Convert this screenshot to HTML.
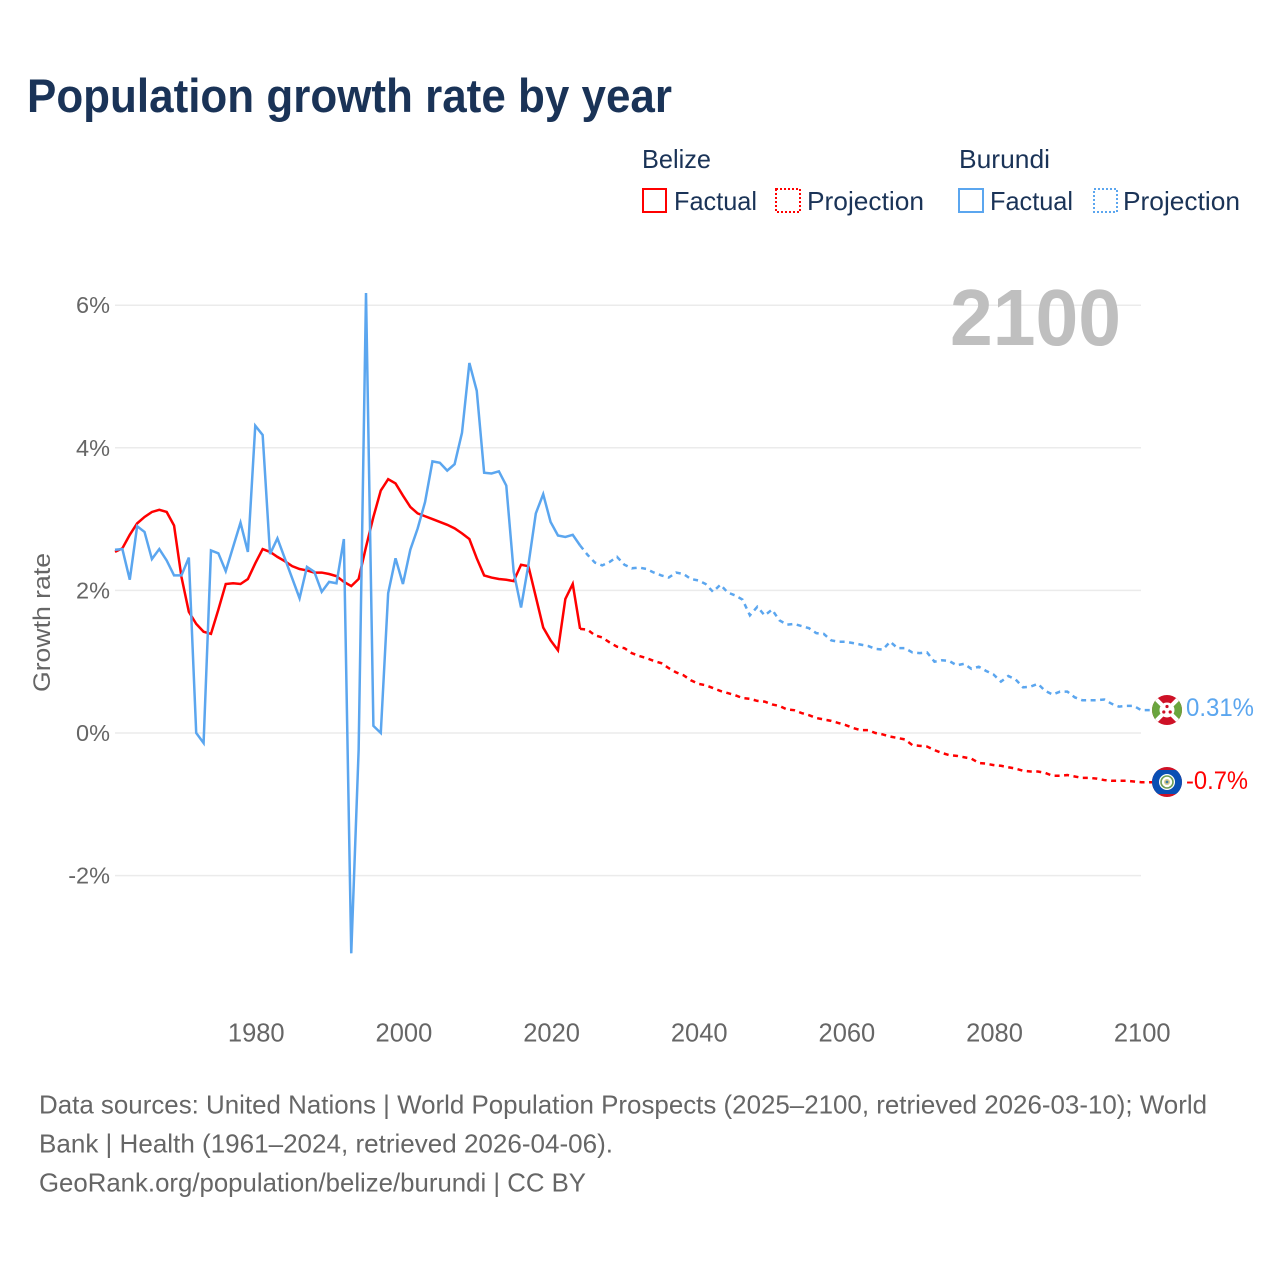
<!DOCTYPE html>
<html lang="en">
<head>
<meta charset="utf-8">
<title>Population growth rate by year</title>
<style>
html,body{margin:0;padding:0;background:#fff;}
svg{display:block;font-family:"Liberation Sans",sans-serif;}
</style>
</head>
<body>
<svg id="chart" xmlns="http://www.w3.org/2000/svg" width="1280" height="1280" viewBox="0 0 1280 1280">
  <rect x="0" y="0" width="1280" height="1280" fill="#fff"/>
  <text x="27" y="112" font-size="47" font-weight="700" fill="#1a3357" textLength="645" lengthAdjust="spacingAndGlyphs">Population growth rate by year</text>

  <g font-size="26" fill="#1a3357">
    <text x="642" y="168" textLength="69" lengthAdjust="spacingAndGlyphs">Belize</text>
    <text x="959" y="168" textLength="91" lengthAdjust="spacingAndGlyphs">Burundi</text>
    <g>
      <rect x="643" y="189" width="23" height="23" fill="none" stroke="#ff0000" stroke-width="2"/>
      <text x="674" y="210" textLength="83" lengthAdjust="spacingAndGlyphs">Factual</text>
    </g>
    <g>
      <rect x="776" y="189" width="24" height="23" fill="none" stroke="#ff0000" stroke-width="2" stroke-dasharray="2 2"/>
      <text x="807" y="210" textLength="117" lengthAdjust="spacingAndGlyphs">Projection</text>
    </g>
    <g>
      <rect x="959" y="189" width="24" height="23" fill="none" stroke="#5ba6ef" stroke-width="2"/>
      <text x="990" y="210" textLength="83" lengthAdjust="spacingAndGlyphs">Factual</text>
    </g>
    <g>
      <rect x="1094" y="189" width="23" height="23" fill="none" stroke="#5ba6ef" stroke-width="2" stroke-dasharray="2 2"/>
      <text x="1123" y="210" textLength="117" lengthAdjust="spacingAndGlyphs">Projection</text>
    </g>
  </g>

  <g id="grid"></g>
  <g id="yticks"></g>
  <g id="xticks"></g>
  <text transform="translate(50,622.5) rotate(-90)" text-anchor="middle" font-size="24" fill="#666666" textLength="139" lengthAdjust="spacingAndGlyphs">Growth rate</text>
  <text x="950" y="345" font-size="80" font-weight="700" fill="#bfbfbf" textLength="171" lengthAdjust="spacingAndGlyphs">2100</text>
  <g id="series"></g>

  <defs>
    <clipPath id="clip-burundi"><circle cx="1167" cy="710" r="15"/></clipPath>
    <clipPath id="clip-belize"><circle cx="1167" cy="782" r="15"/></clipPath>
  </defs>
  <g clip-path="url(#clip-burundi)">
    <rect x="1152" y="695" width="30" height="30" fill="#ce1126"/>
    <polygon points="1152,695 1167,710 1152,725" fill="#6aa53e"/>
    <polygon points="1182,695 1167,710 1182,725" fill="#6aa53e"/>
    <path d="M1152 695L1182 725M1182 695L1152 725" stroke="#fff" stroke-width="4"/>
    <circle cx="1167" cy="710" r="7.5" fill="#fff"/>
    <circle cx="1167" cy="706.5" r="1.6" fill="#ce1126"/>
    <circle cx="1163.8" cy="712" r="1.6" fill="#ce1126"/>
    <circle cx="1170.2" cy="712" r="1.6" fill="#ce1126"/>
  </g>
  <g clip-path="url(#clip-belize)">
    <rect x="1152" y="767" width="30" height="30" fill="#ce1126"/>
    <rect x="1152" y="770" width="30" height="24" fill="#0a4fb4"/>
    <circle cx="1167" cy="782" r="8" fill="#fff"/>
    <circle cx="1167" cy="782" r="6" fill="none" stroke="#6f9e55" stroke-width="1.6"/>
    <circle cx="1167" cy="782" r="3" fill="#d8c98a"/>
    <circle cx="1167" cy="782" r="1.4" fill="#3a7ca8"/>
  </g>
  <text x="1186" y="716" font-size="25" fill="#5ba6ef" textLength="68" lengthAdjust="spacingAndGlyphs">0.31%</text>
  <text x="1186" y="789" font-size="25" fill="#ff0000" textLength="62" lengthAdjust="spacingAndGlyphs">-0.7%</text>

  <g font-size="26" fill="#666666">
    <text x="39" y="1113.5" textLength="1168" lengthAdjust="spacingAndGlyphs">Data sources: United Nations | World Population Prospects (2025–2100, retrieved 2026-03-10); World</text>
    <text x="39" y="1152.5" textLength="574" lengthAdjust="spacingAndGlyphs">Bank | Health (1961–2024, retrieved 2026-04-06).</text>
    <text x="39" y="1191.5" textLength="547" lengthAdjust="spacingAndGlyphs">GeoRank.org/population/belize/burundi | CC BY</text>
  </g>
</svg>
<script>
// Percent growth, one value per year.
const factualStartYear = 1961;
const projectionStartYear = 2024;
const belizeFactual = [2.54,2.59,2.78,2.94,3.03,3.10,3.13,3.10,2.91,2.19,1.70,1.53,1.42,1.39,1.73,2.09,2.10,2.09,2.16,2.38,2.58,2.54,2.47,2.41,2.34,2.30,2.28,2.25,2.25,2.23,2.20,2.12,2.06,2.16,2.61,3.03,3.40,3.56,3.50,3.33,3.17,3.08,3.04,3.00,2.96,2.92,2.87,2.80,2.72,2.45,2.21,2.18,2.16,2.15,2.13,2.36,2.34,1.91,1.48,1.30,1.16,1.88,2.09,1.46];
const belizeProjection = [1.46,1.45,1.37,1.34,1.27,1.21,1.19,1.12,1.08,1.05,1.01,0.98,0.91,0.85,0.81,0.74,0.69,0.67,0.63,0.59,0.56,0.53,0.49,0.48,0.45,0.44,0.40,0.38,0.33,0.32,0.28,0.25,0.21,0.19,0.17,0.14,0.11,0.07,0.04,0.04,0.00,-0.02,-0.05,-0.07,-0.09,-0.17,-0.18,-0.19,-0.24,-0.28,-0.31,-0.32,-0.34,-0.36,-0.42,-0.43,-0.45,-0.46,-0.48,-0.50,-0.53,-0.54,-0.54,-0.56,-0.60,-0.60,-0.59,-0.61,-0.63,-0.63,-0.64,-0.66,-0.67,-0.67,-0.67,-0.68,-0.69];
const burundiFactual = [2.57,2.58,2.15,2.90,2.82,2.44,2.58,2.42,2.21,2.21,2.46,0.00,-0.14,2.56,2.52,2.27,2.61,2.95,2.54,4.31,4.18,2.51,2.73,2.45,2.17,1.89,2.33,2.26,1.98,2.12,2.10,2.72,-3.09,-0.24,6.17,0.10,0.00,1.96,2.45,2.09,2.57,2.87,3.24,3.81,3.79,3.68,3.77,4.21,5.19,4.80,3.65,3.64,3.67,3.47,2.26,1.76,2.36,3.08,3.35,2.96,2.77,2.75,2.78,2.63];
const burundiProjection = [2.63,2.50,2.39,2.35,2.40,2.47,2.36,2.31,2.32,2.30,2.25,2.21,2.18,2.25,2.23,2.16,2.14,2.09,1.98,2.08,1.97,1.93,1.87,1.65,1.77,1.65,1.73,1.58,1.52,1.53,1.50,1.47,1.40,1.39,1.30,1.28,1.28,1.26,1.24,1.22,1.18,1.17,1.28,1.19,1.19,1.13,1.12,1.13,1.00,1.02,1.01,0.95,0.97,0.90,0.93,0.87,0.82,0.72,0.80,0.75,0.64,0.65,0.69,0.59,0.54,0.58,0.58,0.50,0.46,0.46,0.46,0.47,0.41,0.37,0.38,0.38,0.32];
const yTickValues = [-2,0,2,4,6];
const yTickLabels = ["-2%","0%","2%","4%","6%"];
const xTickValues = [1980,2000,2020,2040,2060,2080,2100];
const xTickLabels = ["1980","2000","2020","2040","2060","2080","2100"];

const NS = "http://www.w3.org/2000/svg";
function xScale(year){ return 115 + (year - 1961) * (1141.2 - 115) / (2100 - 1961); }
function yScale(value){ return 733 - value * 71.3; }
function linePath(values, startYear){
  return values.map(function(v, i){
    return (i ? "L" : "M") + xScale(startYear + i).toFixed(2) + " " + yScale(v).toFixed(2);
  }).join("");
}

const gridGroup = document.getElementById("grid");
const yTickGroup = document.getElementById("yticks");
yTickValues.forEach(function(v, i){
  const ln = document.createElementNS(NS, "line");
  
  
  ln.setAttribute("x1", 115);
  ln.setAttribute("x2", 1141);
  ln.setAttribute("y1", yScale(v));
  ln.setAttribute("y2", yScale(v));
  ln.setAttribute("stroke", "#ebebeb");
  ln.setAttribute("stroke-width", "1.5");
  gridGroup.appendChild(ln);
  const t = document.createElementNS(NS, "text");
  
  
  t.setAttribute("x", 110);
  t.setAttribute("y", yScale(v) + 8);
  t.setAttribute("text-anchor", "end");
  t.setAttribute("font-size", "23.5");
  t.setAttribute("fill", "#666666");
  t.textContent = yTickLabels[i];
  yTickGroup.appendChild(t);
});

const xTickGroup = document.getElementById("xticks");
xTickValues.forEach(function(v, i){
  const t = document.createElementNS(NS, "text");
  
  
  t.setAttribute("x", xScale(v) + 1);
  t.setAttribute("y", 1041.5);
  t.setAttribute("text-anchor", "middle");
  t.setAttribute("font-size", "25.5");
  t.setAttribute("fill", "#666666");
  t.textContent = xTickLabels[i];
  xTickGroup.appendChild(t);
});

const seriesGroup = document.getElementById("series");
function addSolid(values, color, name){
  const p = document.createElementNS(NS, "path");
  
  
  p.setAttribute("d", linePath(values, factualStartYear));
  p.setAttribute("fill", "none");
  p.setAttribute("stroke", color);
  p.setAttribute("stroke-width", "2.5");
  p.setAttribute("stroke-linejoin", "miter");
  seriesGroup.appendChild(p);
}
function addDashed(values, color, name){
  const p = document.createElementNS(NS, "path");
  
  
  const lastY = yScale(values[values.length - 1]).toFixed(2);
  p.setAttribute("d", linePath(values, projectionStartYear) + "L1152 " + lastY);
  p.setAttribute("fill", "none");
  p.setAttribute("stroke", color);
  p.setAttribute("stroke-width", "2.5");
  p.setAttribute("stroke-dasharray", "5 4.5");
  seriesGroup.appendChild(p);
}
addSolid(belizeFactual, "#ff0000", "belize-factual-line");
addDashed(belizeProjection, "#ff0000", "belize-projection-line");
addSolid(burundiFactual, "#5ba6ef", "burundi-factual-line");
addDashed(burundiProjection, "#5ba6ef", "burundi-projection-line");
</script>
</body>
</html>
